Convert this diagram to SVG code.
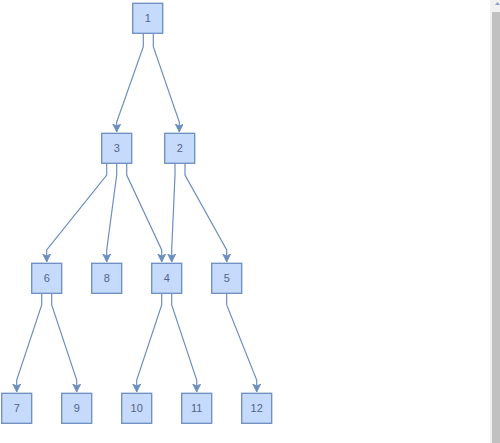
<svg xmlns="http://www.w3.org/2000/svg" width="500" height="443" viewBox="0 0 500 443">
<defs>
<style>
.n rect{fill:#c6dbfb;stroke:#6c8ebf;stroke-width:1.3}
.n text{font-family:"Liberation Sans",Arial,sans-serif;font-size:11px;fill:#52648c;text-anchor:middle;dominant-baseline:central}
.e path{fill:none;stroke:#6c8ebf;stroke-width:1.2;marker-end:url(#a)}
</style>
<marker id="a" markerWidth="10" markerHeight="10" refX="8" refY="4" orient="auto" markerUnits="userSpaceOnUse">
<path d="M0,0 L8,4 L0,8 L2,4 Z" fill="#6c8ebf" stroke="#6c8ebf" stroke-width="0.8"/>
</marker>
</defs>
<rect width="500" height="443" fill="#ffffff"/>
<g id="edges" class="e">
<path d="M143.3,33.3 V46.7 L116.7,122 V132"/>
<path d="M153.3,33.3 V46.7 L179.3,122 V132"/>
<path d="M106.7,163.3 V175 L46.7,250 V262"/>
<path d="M116.7,163.3 V175 L106.7,250 V262"/>
<path d="M126.7,163.3 V175 L161.7,250 V262"/>
<path d="M175,163.3 V175 L171.7,250 V262"/>
<path d="M185,163.3 V175 L226.7,250 V262"/>
<path d="M41.7,293.3 V305 L16.7,380 V392"/>
<path d="M51.7,293.3 V305 L76.7,380 V392"/>
<path d="M161.7,293.3 V305 L136.7,380 V392"/>
<path d="M171.7,293.3 V305 L196.7,380 V392"/>
<path d="M226.7,293.3 V305 L256.7,380 V392"/>
</g>
<g id="n1" class="n"><rect x="132.7" y="3.3" width="30" height="30"/><text x="147.7" y="18.3">1</text></g>
<g id="n3" class="n"><rect x="101.7" y="133.3" width="30" height="30"/><text x="116.7" y="148.3">3</text></g>
<g id="n2" class="n"><rect x="164.7" y="133.3" width="30" height="30"/><text x="179.7" y="148.3">2</text></g>
<g id="n6" class="n"><rect x="31.7" y="263.3" width="30" height="30"/><text x="46.7" y="278.3">6</text></g>
<g id="n8" class="n"><rect x="91.7" y="263.3" width="30" height="30"/><text x="106.7" y="278.3">8</text></g>
<g id="n4" class="n"><rect x="151.7" y="263.3" width="30" height="30"/><text x="166.7" y="278.3">4</text></g>
<g id="n5" class="n"><rect x="211.7" y="263.3" width="30" height="30"/><text x="226.7" y="278.3">5</text></g>
<g id="n7" class="n"><rect x="1.7" y="393.3" width="30" height="30"/><text x="16.7" y="408.3">7</text></g>
<g id="n9" class="n"><rect x="61.7" y="393.3" width="30" height="30"/><text x="76.7" y="408.3">9</text></g>
<g id="n10" class="n"><rect x="121.7" y="393.3" width="30" height="30"/><text x="136.7" y="408.3">10</text></g>
<g id="n11" class="n"><rect x="181.7" y="393.3" width="30" height="30"/><text x="196.7" y="408.3">11</text></g>
<g id="n12" class="n"><rect x="241.7" y="393.3" width="30" height="30"/><text x="256.7" y="408.3">12</text></g>
<g id="scrollbar">
<rect x="490" y="0" width="10" height="443" fill="#f1f1f1"/>
<rect x="492" y="12" width="8" height="431" fill="#c1c1c1"/>
<path d="M495,5 L497.5,2 L500,5 Z" fill="#8aa0cc"/>
</g>
</svg>
